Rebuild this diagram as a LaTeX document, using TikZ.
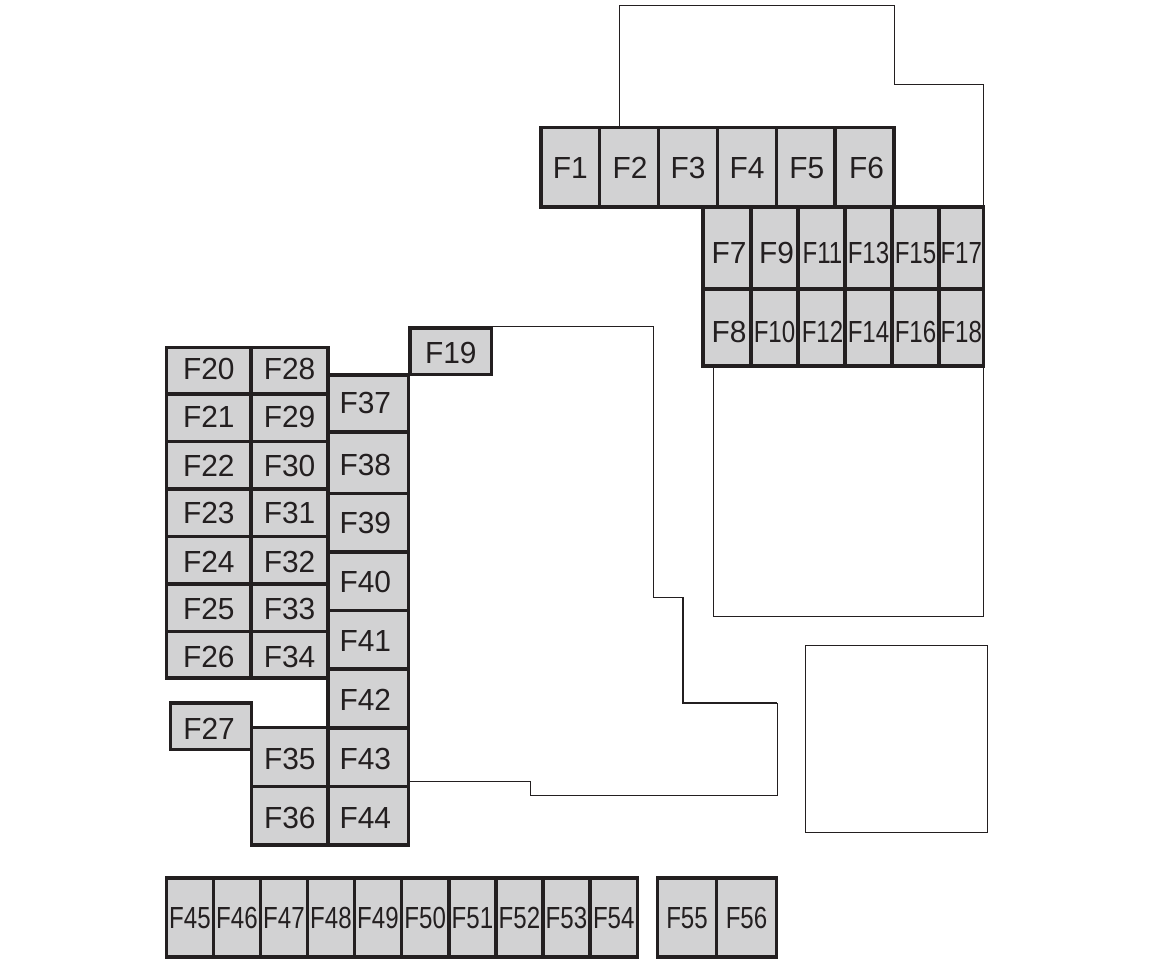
\documentclass[tikz,border=0pt]{standalone}
\usepackage{fontspec}
\setmainfont{Liberation Sans}
\definecolor{fusefill}{HTML}{D2D2D3}
\definecolor{ink}{HTML}{231F20}
\tikzset{
  fuse/.style={draw=ink,fill=fusefill,line width=3.3pt,rectangle,inner sep=0pt,outer sep=0pt,
    text=ink,font=\fontsize{30.5}{30.5}\selectfont,text height=22pt,text depth=0pt,align=center},
  outline/.style={draw=ink,line width=0.9pt,line join=miter},
  outlineheavy/.style={draw=ink,line width=1.3pt,line join=miter},
}
% optional arguments: downward and rightward shift of the label
\NewDocumentCommand{\fcell}{O{0} O{0} m m m m m}{%
  \pgfmathsetmacro{\cw}{#6-#4}\pgfmathsetmacro{\ch}{#7-#5}%
  \node[fuse,minimum width=\cw pt,minimum height=\ch pt] (#3) at ({(#4+#6)/2},{(#5+#7)/2})
    {\raisebox{-#1pt}{\kern#2pt\scalebox{0.98}[1]{#3}\kern-#2pt}};}
\NewDocumentCommand{\ncell}{O{0} O{0} m m m m m}{%
  \pgfmathsetmacro{\cw}{#6-#4}\pgfmathsetmacro{\ch}{#7-#5}%
  \node[fuse,minimum width=\cw pt,minimum height=\ch pt] (#3) at ({(#4+#6)/2},{(#5+#7)/2})
    {\raisebox{-#1pt}{\kern#2pt\scalebox{0.79}[1]{#3}\kern-#2pt}};}
\begin{document}
\begin{tikzpicture}[x=1pt,y=-1pt]
\useasboundingbox (0,0) rectangle (1150,969);
% thin outlines
\coordinate (a0) at (619,127);\coordinate (a1) at (619,5);\coordinate (a2) at (894,5);
\coordinate (a3) at (894,84);\coordinate (a4) at (983,84);\coordinate (a5) at (983,207);
\draw[outline] (a0) -- (a1) -- (a2) -- (a3) -- (a4) -- (a5);
\coordinate (b0) at (713,366);\coordinate (b1) at (713,616);\coordinate (b2) at (983,616);\coordinate (b3) at (983,366);
\draw[outline] (b0) -- (b1) -- (b2) -- (b3);
\coordinate (c0) at (805,645);\coordinate (c1) at (987,832);
\draw[outline] (c0) rectangle (c1);
\coordinate (d0) at (492,326);\coordinate (d1) at (653,326);\coordinate (d2) at (653,597);
\coordinate (d3) at (683,597);\coordinate (d4) at (683,703);\coordinate (d5) at (777,703);
\coordinate (d6) at (777,795);\coordinate (d7) at (530,795);\coordinate (d8) at (530,781);\coordinate (d9) at (408,781);
\draw[outline] (d0) -- (d1) -- (d2) -- (d3);
\draw[outlineheavy] (d3) -- (d4) -- (d5);
\draw[outline] (d5) -- (d6) -- (d7) -- (d8) -- (d9);
% top row
\fcell{F1}{541}{127.5}{599.5}{207}
\fcell[0][1]{F2}{599.5}{127.5}{658.5}{207}
\fcell{F3}{658.5}{127.5}{717.5}{207}
\fcell{F4}{717.5}{127.5}{776.5}{207}
\fcell[0][1]{F5}{776.5}{127.5}{835}{207}
\fcell[0][2]{F6}{835}{127.5}{894}{207}
% block F7-F18
\fcell[4][2]{F7}{703}{207}{751}{289}
\fcell[4][2]{F8}{703}{289}{751}{366}
\fcell[4][2]{F9}{751}{207}{798}{289}
\ncell[4]{F10}{751}{289}{798}{366}
\ncell[4][1]{F11}{798}{207}{845}{289}
\ncell[4][1]{F12}{798}{289}{845}{366}
\ncell[4]{F13}{845}{207}{892}{289}
\ncell[4]{F14}{845}{289}{892}{366}
\ncell[4]{F15}{892}{207}{939}{289}
\ncell[4]{F16}{892}{289}{939}{366}
\ncell[4]{F17}{939}{207}{983.5}{289}
\ncell[4]{F18}{939}{289}{983.5}{366}
% F19
\fcell[1]{F19}{410}{328}{491.5}{374.5}
% left columns
\fcell[-2]{F20}{166.5}{347.5}{251}{394}
\fcell[-1]{F21}{166.5}{394}{251}{441.5}
\fcell{F22}{166.5}{441.5}{251}{489}
\fcell{F23}{166.5}{489}{251}{536.5}
\fcell[1]{F24}{166.5}{536.5}{251}{584}
\fcell[1]{F25}{166.5}{584}{251}{631.5}
\fcell[2]{F26}{166.5}{631.5}{251}{678}
\fcell[-2]{F28}{251}{347.5}{328}{394}
\fcell[-1]{F29}{251}{394}{328}{441.5}
\fcell{F30}{251}{441.5}{328}{489}
\fcell{F31}{251}{489}{328}{536.5}
\fcell[1]{F32}{251}{536.5}{328}{584}
\fcell[1]{F33}{251}{584}{328}{631.5}
\fcell[2]{F34}{251}{631.5}{328}{678}
\fcell[2][-2]{F27}{170.5}{703}{251.5}{749.5}
\fcell[1]{F35}{251.5}{727.5}{328}{786.5}
\fcell[2]{F36}{251.5}{786.5}{328}{845}
% column F37-F44
\fcell[-1][-3]{F37}{328}{375}{408.5}{432}
\fcell[2][-3]{F38}{328}{432}{408.5}{493.5}
\fcell[0][-3]{F39}{328}{493.5}{408.5}{552}
\fcell[0][-3]{F40}{328}{552}{408.5}{610.5}
\fcell[1][-3]{F41}{328}{610.5}{408.5}{669}
\fcell[1][-3]{F42}{328}{669}{408.5}{728}
\fcell[1][-3]{F43}{328}{728}{408.5}{786.5}
\fcell[2][-3]{F44}{328}{786.5}{408.5}{845}
% bottom row
\ncell{F45}{166.5}{878}{213.5}{957}
\ncell{F46}{213.5}{878}{260.5}{957}
\ncell{F47}{260.5}{878}{307.5}{957}
\ncell{F48}{307.5}{878}{354.5}{957}
\ncell{F49}{354.5}{878}{401.5}{957}
\ncell{F50}{401.5}{878}{449}{957}
\ncell{F51}{449}{878}{496}{957}
\ncell{F52}{496}{878}{543}{957}
\ncell{F53}{543}{878}{590}{957}
\ncell{F54}{590}{878}{637.5}{957}
\ncell{F55}{657.5}{878}{716.5}{957}
\ncell{F56}{716.5}{878}{776.5}{957}
\end{tikzpicture}
\end{document}
